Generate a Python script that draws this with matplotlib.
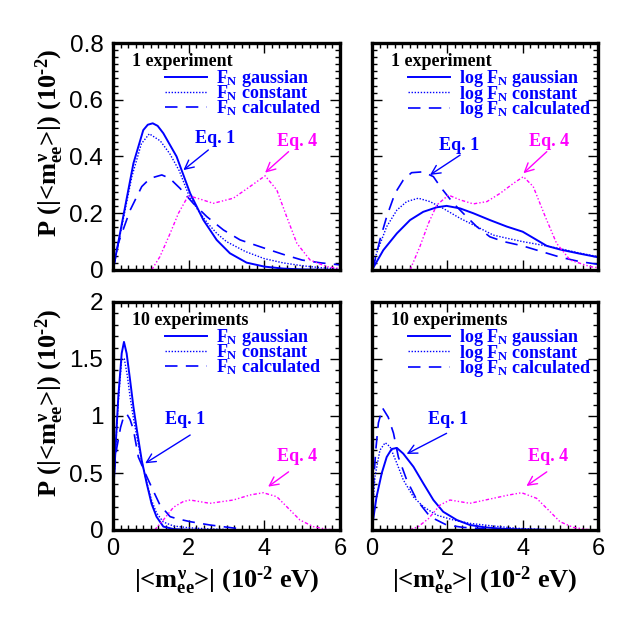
import matplotlib as mpl
import matplotlib.pyplot as plt
from matplotlib.lines import Line2D
from matplotlib.ticker import MultipleLocator

# General plot parameters
mpl.rcParams['font.family'] = 'Liberation Sans'
mpl.rcParams['font.size'] = 16
mpl.rcParams['mathtext.fontset'] = 'custom'
mpl.rcParams['mathtext.rm'] = 'Liberation Serif:bold'
mpl.rcParams['mathtext.it'] = 'Liberation Serif:bold'
mpl.rcParams['mathtext.bf'] = 'Liberation Serif:bold'
mpl.rcParams['lines.scale_dashes'] = False
mpl.rcParams['axes.linewidth'] = 2.4

BLUE = '#0000ff'
MAGENTA = '#ff00ff'

# ---- data ----
# 1 experiment, F_N
tl_gauss_x = [0, 0.1, 0.27, 0.54, 0.8, 0.92, 1.05, 1.18, 1.33, 1.68, 2.04, 2.39, 2.74, 3.09, 3.53, 4.0, 4.5, 5.0, 6.0]
tl_gauss_y = [0, 0.07, 0.188, 0.376, 0.493, 0.512, 0.517, 0.508, 0.482, 0.40, 0.27, 0.176, 0.106, 0.059, 0.026, 0.012, 0.005, 0.002, 0.0]
tl_const_x = [0, 0.25, 0.5, 0.75, 0.96, 1.25, 1.5, 1.75, 2.0, 2.25, 2.5, 2.75, 3.0, 3.5, 4.0, 4.5, 5.0, 5.5, 6.0]
tl_const_y = [0, 0.165, 0.33, 0.445, 0.48, 0.455, 0.41, 0.35, 0.265, 0.21, 0.165, 0.128, 0.10, 0.065, 0.04, 0.025, 0.015, 0.008, 0.004]
tl_calc_x = [0, 0.14, 0.45, 0.76, 0.98, 1.29, 1.5, 1.77, 2.12, 2.48, 2.92, 3.36, 4.0, 4.5, 5.0, 5.5, 6.0]
tl_calc_y = [0, 0.094, 0.21, 0.294, 0.323, 0.335, 0.323, 0.288, 0.235, 0.188, 0.141, 0.106, 0.077, 0.055, 0.035, 0.025, 0.018]
tl_eq4_x = [1.02, 1.24, 1.51, 1.73, 1.99, 2.3, 2.65, 3.18, 3.62, 4.02, 4.33, 4.59, 4.86, 5.21, 5.65, 6.0]
tl_eq4_y = [0, 0.047, 0.129, 0.2, 0.262, 0.25, 0.235, 0.253, 0.294, 0.332, 0.282, 0.188, 0.094, 0.035, 0.012, 0.005]

# 1 experiment, log F_N
tr_gauss_x = [0, 0.30, 0.66, 1.01, 1.36, 1.72, 1.98, 2.34, 2.69, 3.13, 3.58, 4.0, 4.64, 5.0, 5.5, 6.0]
tr_gauss_y = [0, 0.07, 0.129, 0.176, 0.205, 0.221, 0.226, 0.217, 0.2, 0.176, 0.153, 0.135, 0.085, 0.072, 0.058, 0.045]
tr_const_x = [0, 0.12, 0.39, 0.66, 0.92, 1.23, 1.54, 1.89, 2.34, 2.78, 3.22, 3.58, 4.0, 4.5, 5.0, 5.5, 6.0]
tr_const_y = [0, 0.059, 0.153, 0.211, 0.241, 0.253, 0.241, 0.217, 0.182, 0.153, 0.123, 0.112, 0.10, 0.088, 0.075, 0.06, 0.047]
tr_calc_x = [0, 0.04, 0.21, 0.39, 0.61, 0.83, 1.05, 1.36, 1.63, 1.81, 2.16, 2.51, 2.78, 3.13, 3.5, 4.0, 4.5, 5.0, 5.5, 6.0]
tr_calc_y = [0, 0.012, 0.106, 0.188, 0.27, 0.317, 0.343, 0.346, 0.329, 0.294, 0.235, 0.188, 0.153, 0.117, 0.10, 0.085, 0.065, 0.045, 0.03, 0.02]
tr_eq4_x = [1.01, 1.27, 1.5, 1.72, 2.03, 2.34, 2.69, 3.05, 3.4, 3.75, 4.02, 4.28, 4.6, 4.9, 5.26, 5.79, 6.0]
tr_eq4_y = [0, 0.082, 0.165, 0.229, 0.264, 0.247, 0.233, 0.241, 0.27, 0.305, 0.329, 0.294, 0.188, 0.094, 0.035, 0.012, 0.008]

# 10 experiments, F_N
bl_gauss_x = [0.03, 0.08, 0.14, 0.23, 0.29, 0.36, 0.45, 0.54, 0.63, 0.76, 0.89, 1.02, 1.15, 1.33, 1.6, 2.0, 2.5]
bl_gauss_y = [0.47, 0.80, 1.17, 1.55, 1.65, 1.55, 1.32, 1.08, 0.88, 0.61, 0.41, 0.23, 0.117, 0.03, 0.008, 0.002, 0.0]
bl_const_x = [0.03, 0.08, 0.14, 0.23, 0.30, 0.38, 0.45, 0.54, 0.63, 0.76, 0.89, 1.02, 1.15, 1.33, 1.6, 2.0, 2.5, 3.0]
bl_const_y = [0.45, 0.78, 1.12, 1.50, 1.50, 1.35, 1.17, 0.98, 0.82, 0.60, 0.42, 0.26, 0.15, 0.07, 0.035, 0.02, 0.01, 0.005]
bl_calc_x = [0.03, 0.1, 0.2, 0.27, 0.36, 0.45, 0.54, 0.67, 0.89, 1.07, 1.24, 1.51, 1.68, 2.04, 2.56, 3.17, 3.4]
bl_calc_y = [0.50, 0.72, 0.90, 0.98, 1.02, 0.97, 0.88, 0.64, 0.47, 0.34, 0.22, 0.117, 0.10, 0.073, 0.044, 0.018, 0.01]
bl_eq4_x = [1.1, 1.33, 1.6, 1.86, 2.04, 2.56, 3.18, 3.62, 3.97, 4.33, 4.68, 4.94, 5.29, 5.65, 6.0]
bl_eq4_y = [0.0, 0.088, 0.2, 0.25, 0.263, 0.234, 0.263, 0.307, 0.327, 0.292, 0.175, 0.088, 0.03, 0.006, 0.0]

# 10 experiments, log F_N
br_gauss_x = [0.0, 0.03, 0.12, 0.26, 0.39, 0.52, 0.66, 0.83, 1.10, 1.36, 1.63, 1.89, 2.25, 2.6, 3.0, 3.5, 4.0, 5.0]
br_gauss_y = [0.0, 0.088, 0.29, 0.50, 0.64, 0.71, 0.72, 0.67, 0.555, 0.41, 0.263, 0.16, 0.088, 0.044, 0.023, 0.01, 0.005, 0.0]
br_const_x = [0.02, 0.08, 0.21, 0.35, 0.48, 0.66, 0.83, 1.10, 1.36, 1.72, 2.16, 2.6, 3.22, 3.84, 4.5, 5.0]
br_const_y = [0.2, 0.47, 0.70, 0.766, 0.73, 0.585, 0.44, 0.29, 0.205, 0.13, 0.088, 0.058, 0.035, 0.015, 0.005, 0.0]
br_calc_x = [0.03, 0.1, 0.17, 0.28, 0.43, 0.57, 0.70, 0.92, 1.19, 1.54, 1.98, 2.42, 3.0]
br_calc_y = [0.35, 0.70, 0.94, 1.07, 0.99, 0.85, 0.64, 0.44, 0.263, 0.117, 0.044, 0.023, 0.01]
br_eq4_x = [1.0, 1.23, 1.5, 1.81, 2.07, 2.6, 3.22, 3.6, 3.97, 4.37, 4.73, 4.99, 5.34, 5.7, 6.0]
br_eq4_y = [0.0, 0.03, 0.10, 0.22, 0.263, 0.234, 0.278, 0.305, 0.327, 0.278, 0.16, 0.073, 0.023, 0.005, 0.0]

legend_kinds = ['gaussian', 'constant', 'calculated']

styles = {
    'gauss': dict(color=BLUE, lw=1.4, ls='-'),
    'const': dict(color=BLUE, lw=1.0, dashes=(1, 1.2)),
    'calc': dict(color=BLUE, lw=1.2, dashes=(9, 6)),
    'eq4': dict(color=MAGENTA, lw=1.0, dashes=(2.5, 1.5, 1, 1.5, 1, 1.5)),
}

serif = dict(family='Liberation Serif', weight='bold')


def draw_panel(ax, curves, ymax, ymaj, ymin, title, prefix, leg_x, eq1, eq4,
               show_xlabels, show_ylabels):
    for key in ['gauss', 'const', 'calc', 'eq4']:
        xs, ys = curves[key]
        ax.plot(xs, ys, **styles[key])

    ax.set_xlim(0, 6)
    ax.set_ylim(0, ymax)
    ax.xaxis.set_major_locator(MultipleLocator(2))
    ax.xaxis.set_minor_locator(MultipleLocator(0.2))
    ax.yaxis.set_major_locator(MultipleLocator(ymaj))
    ax.yaxis.set_minor_locator(MultipleLocator(ymin))
    ax.tick_params(which='both', direction='in', top=True, right=True, width=1)
    ax.tick_params(which='major', length=7)
    ax.tick_params(which='minor', length=3.5)
    ax.tick_params(axis='x', pad=6, labelsize=17)
    ax.tick_params(axis='y', pad=7, labelsize=17.5)
    ax.yaxis.set_major_formatter(mpl.ticker.FuncFormatter(lambda v, p: '%g' % v))
    if not show_xlabels:
        ax.set_xticklabels([])
    if not show_ylabels:
        ax.set_yticklabels([])

    ax.text(0.082, 0.918, title, transform=ax.transAxes, ha='left', va='center',
            fontsize=13, color='black', **serif)

    handles = [Line2D([], [], **styles['gauss']),
               Line2D([], [], **styles['const']),
               Line2D([], [], **styles['calc'])]
    labels = [prefix + '$F_{N}$ ' + k for k in legend_kinds]
    leg = ax.legend(handles, labels, loc='upper left', bbox_to_anchor=(leg_x, 0.89),
                    frameon=False, borderpad=0, borderaxespad=0, handlelength=2.3,
                    handletextpad=0.5, labelspacing=-0.3,
                    prop=dict(family='Liberation Serif', weight='bold', size=13))
    for t in leg.get_texts():
        t.set_color(BLUE)

    (lx, ly), tail, head = eq1
    ax.text(lx, ly, 'Eq. 1', ha='center', va='center', fontsize=13, color=BLUE, **serif)
    ax.annotate('', xy=head, xytext=tail,
                arrowprops=dict(arrowstyle='->', color=BLUE, lw=1.0,
                                mutation_scale=16, shrinkA=0, shrinkB=0))
    (lx, ly), tail, head = eq4
    ax.text(lx, ly, 'Eq. 4', ha='center', va='center', fontsize=13, color=MAGENTA, **serif)
    ax.annotate('', xy=head, xytext=tail,
                arrowprops=dict(arrowstyle='->', color=MAGENTA, lw=1.0,
                                mutation_scale=16, shrinkA=0, shrinkB=0))


fig = plt.figure(figsize=(6.23, 6.23), dpi=100)
W = 623.0
ax_tl = fig.add_axes([113 / W, 1 - 270 / W, 227 / W, 227 / W])
ax_tr = fig.add_axes([372 / W, 1 - 270 / W, 226 / W, 227 / W])
ax_bl = fig.add_axes([113 / W, 1 - 530 / W, 227 / W, 228 / W])
ax_br = fig.add_axes([372 / W, 1 - 530 / W, 226 / W, 228 / W])

draw_panel(ax_tl,
           {'gauss': (tl_gauss_x, tl_gauss_y), 'const': (tl_const_x, tl_const_y),
            'calc': (tl_calc_x, tl_calc_y), 'eq4': (tl_eq4_x, tl_eq4_y)},
           0.8, 0.2, 0.025, '1 experiment', '', 0.229,
           ((2.7, 0.465), (2.52, 0.423), (1.86, 0.352)),
           ((4.86, 0.452), (4.64, 0.417), (4.02, 0.343)), False, True)
draw_panel(ax_tr,
           {'gauss': (tr_gauss_x, tr_gauss_y), 'const': (tr_const_x, tr_const_y),
            'calc': (tr_calc_x, tr_calc_y), 'eq4': (tr_eq4_x, tr_eq4_y)},
           0.8, 0.2, 0.025, '1 experiment', 'log ', 0.161,
           ((2.30, 0.44), (2.34, 0.405), (1.54, 0.335)),
           ((4.69, 0.452), (4.64, 0.417), (4.02, 0.341)), False, False)
draw_panel(ax_bl,
           {'gauss': (bl_gauss_x, bl_gauss_y), 'const': (bl_const_x, bl_const_y),
            'calc': (bl_calc_x, bl_calc_y), 'eq4': (bl_eq4_x, bl_eq4_y)},
           2.0, 0.5, 0.1, '10 experiments', '', 0.229,
           ((1.9, 0.97), (2.04, 0.833), (0.85, 0.585)),
           ((4.86, 0.643), (4.64, 0.51), (4.1, 0.38)), True, True)
draw_panel(ax_br,
           {'gauss': (br_gauss_x, br_gauss_y), 'const': (br_const_x, br_const_y),
            'calc': (br_calc_x, br_calc_y), 'eq4': (br_eq4_x, br_eq4_y)},
           2.0, 0.5, 0.1, '10 experiments', 'log ', 0.161,
           ((2.03, 0.965), (1.98, 0.848), (0.92, 0.667)),
           ((4.68, 0.643), (4.64, 0.51), (4.1, 0.386)), True, False)

ylab = r'P (|<$m_{ee}^{\nu}$>|) (10$^{\text{-}2}$)'
xlab = r'|<$m_{ee}^{\nu}$>| (10$^{\text{-}2}$ eV)'
for ax in (ax_tl, ax_bl):
    ax.set_ylabel(ylab, fontsize=19, **serif)
    ax.yaxis.set_label_coords(-0.205, 0.56)
for ax in (ax_bl, ax_br):
    ax.set_xlabel(xlab, fontsize=19, **serif)
    ax.xaxis.set_label_coords(0.5, -0.15)

fig.savefig('out.png', dpi=100)
